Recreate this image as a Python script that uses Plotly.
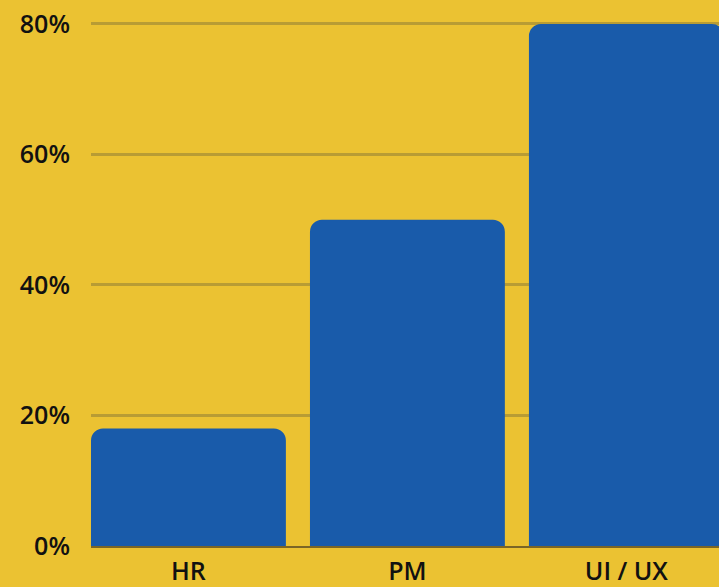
import plotly.graph_objects as go

# --- data ---
categories = ["HR", "PM", "UI / UX"]
shares = [18, 50, 80]
tick_values = [0, 20, 40, 60, 80]
tick_labels = ["0%", "20%", "40%", "60%", "80%"]

BG = "#EBC232"
BAR = "#195BAA"
GRID = "#B89C34"
BASE = "#7A6526"

fig = go.Figure()

fig.add_trace(
    go.Bar(
        x=categories,
        y=shares,
        marker=dict(color=BAR, line=dict(width=0)),
        width=0.89,
        hoverinfo="skip",
    )
)

# y top a bit over 80 so the 80% grid line is still drawn
fig.update_layout(
    width=719,
    height=587,
    paper_bgcolor=BG,
    plot_bgcolor=BG,
    margin=dict(l=91, r=0, t=22, b=41),
    showlegend=False,
    barcornerradius=12,
    font=dict(family="Open Sans", size=25, color="#111111", weight=600),
    xaxis=dict(
        range=[-0.445, 2.423],
        showgrid=False,
        showline=True,
        linecolor=BASE,
        linewidth=2,
        ticks="",
        ticklabelstandoff=2,
        automargin=False,
        fixedrange=True,
    ),
    yaxis=dict(
        range=[0, 80.3],
        tickvals=tick_values,
        ticktext=tick_labels,
        showgrid=True,
        gridcolor=GRID,
        gridwidth=3,
        zeroline=False,
        showline=False,
        ticks="",
        ticklabelstandoff=20,
        automargin=False,
        fixedrange=True,
    ),
)

fig.write_html(
    "out.html",
    config={"displayModeBar": False},
    post_script="document.body.style.margin='0';",
)
